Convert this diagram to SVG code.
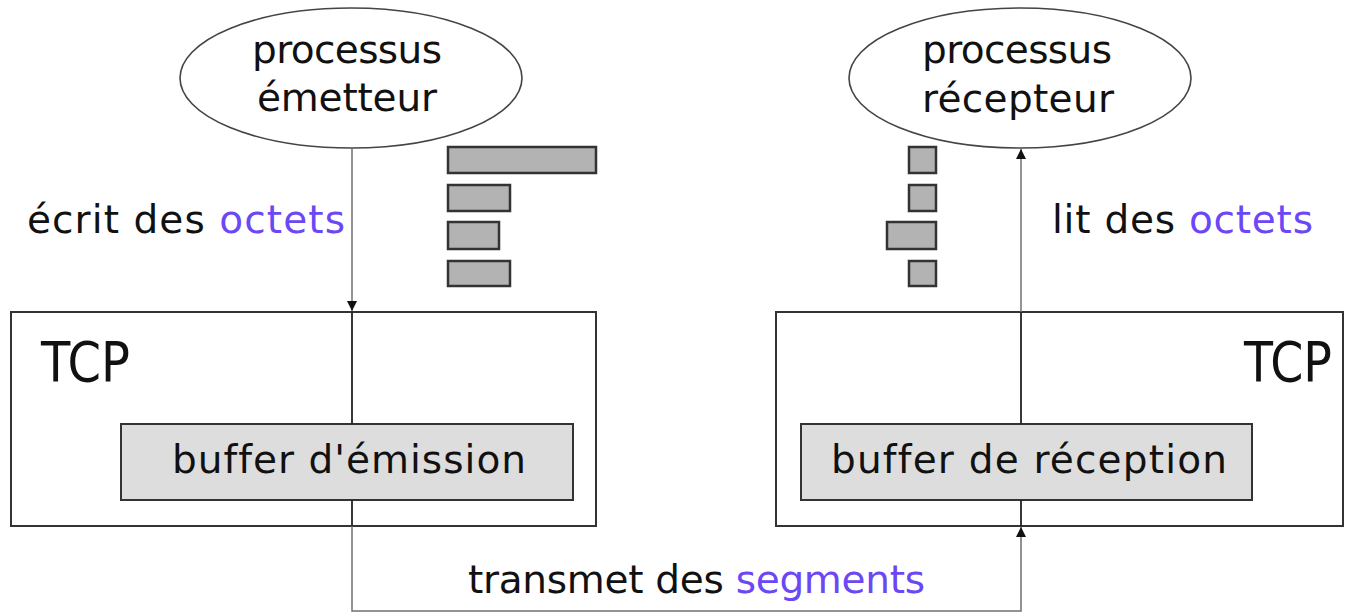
<svg xmlns="http://www.w3.org/2000/svg" width="1348" height="614" viewBox="0 0 1348 614">
  <style>
    text { font-family: "DejaVu Sans", "Noto Sans", sans-serif; fill: #111; font-variant-ligatures: none; }
    .lbl { font-size: 39px; }
    .tcp { font-size: 55px; }
    .blue { fill: #6b47f5; }
    .proc { fill: #fff; stroke: #444; stroke-width: 1.6; }
    .tcpbox { fill: #fff; stroke: #333; stroke-width: 2; }
    .buf { fill: #dddddd; stroke: #333; stroke-width: 2; }
    .chunk { fill: #b3b3b3; stroke: #333; stroke-width: 2.5; }
    .wire { fill: none; stroke: #707070; stroke-width: 1.5; }
    .wire-in { fill: none; stroke: #222; stroke-width: 1.8; }
  </style>
  <defs>
    <marker id="arrow" viewBox="0 0 10 10" refX="10" refY="5" markerWidth="10" markerHeight="10" markerUnits="userSpaceOnUse" orient="auto">
      <path d="M0,0 L10,5 L0,10 Z" fill="#111"/>
    </marker>
  </defs>

  <!-- sending process -->
  <g id="sender-process">
    <ellipse class="proc" cx="351" cy="78" rx="171" ry="70"/>
    <text class="lbl" x="252" y="63" textLength="190">processus</text>
    <text class="lbl" x="257" y="111" textLength="180">émetteur</text>
  </g>

  <!-- receiving process -->
  <g id="receiver-process">
    <ellipse class="proc" cx="1020" cy="78" rx="171" ry="70"/>
    <text class="lbl" x="922" y="63" textLength="190">processus</text>
    <text class="lbl" x="922" y="112" textLength="192">récepteur</text>
  </g>

  <!-- sender TCP with send buffer -->
  <g id="sender-tcp">
    <rect class="tcpbox" x="11" y="312" width="585" height="214"/>
    <text class="tcp" x="41" y="381" textLength="89" lengthAdjust="spacingAndGlyphs">TCP</text>
  </g>
  <g id="send-buffer">
    <rect class="buf" x="121" y="424" width="452" height="76"/>
    <text class="lbl" x="172" y="473" textLength="354">buffer d'émission</text>
  </g>

  <!-- receiver TCP with receive buffer -->
  <g id="receiver-tcp">
    <rect class="tcpbox" x="776" y="312" width="567" height="214"/>
    <text class="tcp" x="1244" y="381" textLength="88" lengthAdjust="spacingAndGlyphs">TCP</text>
  </g>
  <g id="receive-buffer">
    <rect class="buf" x="801" y="424" width="451" height="76"/>
    <text class="lbl" x="831" y="473" textLength="396">buffer de réception</text>
  </g>

  <!-- byte chunks written by the sender -->
  <g id="sender-bytes">
    <rect class="chunk" x="448" y="147" width="148" height="26"/>
    <rect class="chunk" x="448" y="185" width="62" height="26"/>
    <rect class="chunk" x="448" y="222" width="51" height="27"/>
    <rect class="chunk" x="448" y="261" width="62" height="25"/>
  </g>

  <!-- byte chunks read by the receiver -->
  <g id="receiver-bytes">
    <rect class="chunk" x="909" y="147" width="27" height="26"/>
    <rect class="chunk" x="909" y="185" width="27" height="26"/>
    <rect class="chunk" x="887" y="222" width="49" height="27"/>
    <rect class="chunk" x="909" y="261" width="27" height="25"/>
  </g>

  <!-- connectors -->
  <g id="connectors">
    <path class="wire" d="M352,148 V311" marker-end="url(#arrow)"/>
    <path class="wire-in" d="M352,312 V424"/>
    <path class="wire-in" d="M352,500 V526"/>
    <path class="wire" d="M352,526 V611 H1021 V527" marker-end="url(#arrow)"/>
    <path class="wire-in" d="M1021,500 V526"/>
    <path class="wire-in" d="M1021,424 V312"/>
    <path class="wire" d="M1021,312 V149" marker-end="url(#arrow)"/>
  </g>

  <!-- edge labels -->
  <g id="labels">
    <text class="lbl" x="27" y="233" textLength="318">écrit des <tspan class="blue">octets</tspan></text>
    <text class="lbl" x="1052" y="233" textLength="261">lit des <tspan class="blue">octets</tspan></text>
    <text class="lbl" x="468" y="593" textLength="457">transmet des <tspan class="blue">segments</tspan></text>
  </g>
</svg>
